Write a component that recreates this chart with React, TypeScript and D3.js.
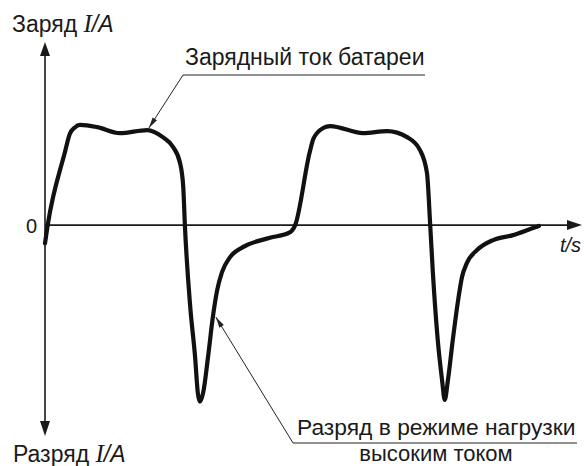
import React from 'react';
import * as d3 from 'd3';

// time (s, arbitrary units) and battery current (A, arbitrary units)
const times = [
  0.0, 0.05, 0.37, 0.46, 0.55, 0.65, 0.97, 1.39, 1.9, 2.19, 2.38, 2.51, 2.57, 2.6,
  2.7, 2.79, 2.84, 2.88, 2.94, 3.03, 3.12, 3.2, 3.29, 3.44, 3.68, 4.18, 4.55, 4.65,
  4.92, 4.99, 5.17, 5.3, 5.91, 6.36, 6.73, 6.97, 7.1, 7.16,
  7.21, 7.3, 7.38, 7.43, 7.49, 7.58, 7.68, 7.75, 7.84, 8.03, 8.33, 8.7, 9.07, 9.18,
];
const currents = [
  -0.1, 0.0, 0.4, 0.5, 0.535, 0.55, 0.538, 0.505, 0.522, 0.483, 0.429, 0.341, 0.209, 0.0,
  -0.45, -0.725, -0.92, -0.97, -0.92, -0.725, -0.505, -0.357, -0.258, -0.176, -0.121, -0.07, -0.04, 0.0,
  0.4, 0.475, 0.533, 0.544, 0.505, 0.516, 0.483, 0.412, 0.286, 0.0,
  -0.264, -0.63, -0.85, -0.96, -0.85, -0.63, -0.41, -0.286, -0.209, -0.137, -0.082, -0.055, -0.016, -0.005,
];

const axisLabels = { charge: 'Заряд', discharge: 'Разряд', unit: '/A', time: 't/s', zero: '0' };
const chargeNote = 'Зарядный ток батареи';
const dischargeNote = ['Разряд в режиме нагрузки', 'высоким током'];

const W = 584;
const H = 466;
const sans = '"Liberation Sans", Arial, sans-serif';
const serif = '"Liberation Serif", "Times New Roman", serif';

export default function App() {
  const x = d3.scaleLinear().domain([0, 10]).range([45, 583]);
  const y = d3.scaleLinear().domain([-1.18, 1]).range([440, 43]);

  const pts: [number, number][] = times.map((t, i) => [t, currents[i]]);
  const line = d3
    .line<[number, number]>()
    .x((d) => x(d[0]))
    .y((d) => y(d[1]))
    .curve(d3.curveMonotoneX);

  const x0 = x(0);
  const y0 = y(0);

  // leader arrow heads
  const head = (fx: number, fy: number, tx: number, ty: number, len = 11, half = 2.6) => {
    const a = Math.atan2(ty - fy, tx - fx);
    const bx = tx - len * Math.cos(a);
    const by = ty - len * Math.sin(a);
    const px = -Math.sin(a) * half;
    const py = Math.cos(a) * half;
    return `M${tx},${ty}L${bx + px},${by + py}L${bx - px},${by - py}Z`;
  };

  // charge note points to the first plateau, discharge note to the first recovery
  const cTip: [number, number] = [x(1.93), y(0.522) - 2];
  const dTip: [number, number] = [x(3.12) + 3, y(-0.505)];

  return (
    <svg width={W} height={H} style={{ position: 'absolute', left: 0, top: 0, background: '#fff' }}>
      {/* axes */}
      <g stroke="#1a1a1a" strokeWidth={1.6} fill="#1a1a1a">
        <line x1={x0} y1={50} x2={x0} y2={430} />
        <line x1={x0} y1={y0} x2={572} y2={y0} />
        <path d={`M${x0},42L${x0 - 5},56L${x0 + 5},56Z`} stroke="none" />
        <path d={`M${x0},436L${x0 - 5},421L${x0 + 5},421Z`} stroke="none" />
        <path d={`M582,${y0}L567,${y0 - 5}L567,${y0 + 5}Z`} stroke="none" />
      </g>

      {/* current trace */}
      <path d={line(pts) ?? ''} fill="none" stroke="#111" strokeWidth={4.2} strokeLinejoin="round" strokeLinecap="round" />

      {/* annotations */}
      <g stroke="#222" strokeWidth={1} fill="none">
        <polyline points={`425,75 183,75 ${cTip[0]},${cTip[1]}`} />
        <polyline points={`577,443 293,443 ${dTip[0]},${dTip[1]}`} />
      </g>
      <path d={head(183, 75, cTip[0], cTip[1])} fill="#222" />
      <path d={head(293, 443, dTip[0], dTip[1])} fill="#222" />

      <g fill="#1a1a1a" fontFamily={sans}>
        <text x={12} y={32} fontSize={23}>
          {axisLabels.charge}{' '}
          <tspan fontFamily={serif} fontStyle="italic" fontSize={25}>I</tspan>
          <tspan fontStyle="italic">{axisLabels.unit}</tspan>
        </text>
        <text x={13} y={462} fontSize={23}>
          {axisLabels.discharge}{' '}
          <tspan fontFamily={serif} fontStyle="italic" fontSize={25}>I</tspan>
          <tspan fontStyle="italic">{axisLabels.unit}</tspan>
        </text>
        <text x={26} y={233} fontSize={20}>{axisLabels.zero}</text>
        <text x={560} y={252} fontSize={20} fontStyle="italic">{axisLabels.time}</text>
        <text x={185} y={65} fontSize={23}>{chargeNote}</text>
        <text x={297} y={435} fontSize={22.8}>{dischargeNote[0]}</text>
        <text x={436} y={461} fontSize={22} textAnchor="middle">{dischargeNote[1]}</text>
      </g>
    </svg>
  );
}
